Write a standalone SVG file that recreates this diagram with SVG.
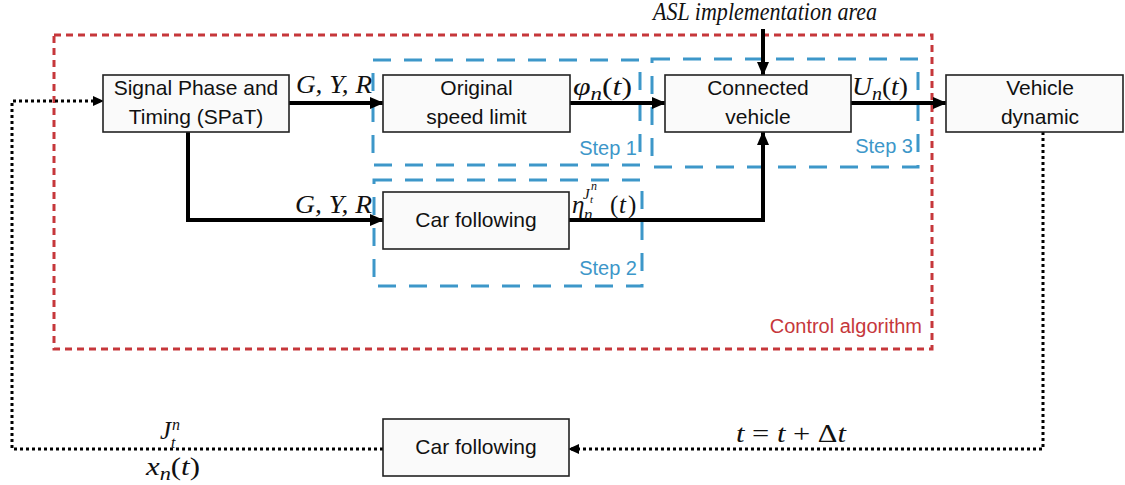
<svg xmlns="http://www.w3.org/2000/svg" width="1125" height="485" viewBox="0 0 1125 485">
  <style>
    .box { fill: #fafafa; stroke: #222; stroke-width: 1.6; }
    .lbl { font-family: "Liberation Sans", Arial, sans-serif; font-size: 21px; fill: #111; text-anchor: middle; }
    .math { font-family: "Liberation Serif", "Times New Roman", serif; font-style: italic; font-size: 25px; fill: #111; }
    .rm { font-style: normal; }
    .step { font-family: "Liberation Sans", Arial, sans-serif; font-size: 20px; fill: #3d97c9; text-anchor: end; }
    .ctrl { font-family: "Liberation Sans", Arial, sans-serif; font-size: 20px; fill: #c6373b; text-anchor: end; }
    .area-red { fill: none; stroke: #c6373b; stroke-width: 3; stroke-dasharray: 7 5; }
    .area-blue { fill: none; stroke: #3d97c9; stroke-width: 3; stroke-dasharray: 18 13; }
    .solid { fill: none; stroke: #000; stroke-width: 4; }
    .dotted { fill: none; stroke: #000; stroke-width: 3; stroke-dasharray: 3 3; }
  </style>
  <defs>
    <marker id="arrow" markerUnits="userSpaceOnUse" markerWidth="14" markerHeight="12" refX="13" refY="6" orient="auto">
      <path d="M0,0 L14,6 L0,12 z" fill="#000"/>
    </marker>
    <marker id="arrow-small" markerUnits="userSpaceOnUse" markerWidth="11" markerHeight="10" refX="10" refY="5" orient="auto">
      <path d="M0,0 L11,5 L0,10 z" fill="#000"/>
    </marker>
  </defs>

  <rect width="1125" height="485" fill="#fff"/>

  <!-- dashed regions -->
  <g id="regions">
    <rect class="area-red" x="54" y="35" width="878" height="314"/>
    <rect class="area-blue" x="373" y="60" width="267" height="105"/>
    <rect class="area-blue" x="652" y="59" width="266" height="108"/>
    <rect class="area-blue" x="374" y="180" width="268" height="106"/>
    <text class="step" x="637" y="155">Step 1</text>
    <text class="step" x="637" y="275">Step 2</text>
    <text class="step" x="913" y="153">Step 3</text>
    <text class="ctrl" x="922" y="333">Control algorithm</text>
  </g>

  <!-- connectors -->
  <g id="connectors">
    <line class="solid" x1="289" y1="103" x2="383" y2="103" marker-end="url(#arrow)"/>
    <line class="solid" x1="570" y1="103" x2="665" y2="103" marker-end="url(#arrow)"/>
    <line class="solid" x1="851" y1="103" x2="946" y2="103" marker-end="url(#arrow)"/>
    <line class="solid" x1="763" y1="29" x2="763" y2="75" marker-end="url(#arrow)"/>
    <polyline class="solid" points="188,132 188,220 383,220" marker-end="url(#arrow)"/>
    <polyline class="solid" points="569,220 763,220 763,132" marker-end="url(#arrow)"/>
    <polyline class="dotted" points="1043,132 1043,449 569,449" marker-end="url(#arrow-small)"/>
    <polyline class="dotted" points="383,449 12,449 12,101 103,101" marker-end="url(#arrow-small)"/>

    <!-- connector labels -->
    <text class="math" x="296" y="93" textLength="76" lengthAdjust="spacingAndGlyphs">G, Y, R</text>
    <text class="math" x="295" y="213" textLength="77" lengthAdjust="spacingAndGlyphs">G, Y, R</text>
    <text class="math" x="573" y="95" textLength="59" lengthAdjust="spacingAndGlyphs">φ<tspan style="font-size:18px" dy="5">n</tspan><tspan class="rm" dy="-5">(</tspan>t<tspan class="rm">)</tspan></text>
    <text class="math" x="852" y="95" textLength="56" lengthAdjust="spacingAndGlyphs">U<tspan style="font-size:18px" dy="5">n</tspan><tspan class="rm" dy="-5">(</tspan>t<tspan class="rm">)</tspan></text>
    <text class="math"><tspan x="572" y="213">η</tspan><tspan x="584" y="220" style="font-size:17px">n</tspan><tspan x="583" y="199" style="font-size:15px">J</tspan><tspan x="590" y="203" style="font-size:11px">t</tspan><tspan x="591" y="190" style="font-size:12px">n</tspan><tspan class="rm" x="610" y="213">(</tspan><tspan x="619" y="213">t</tspan><tspan class="rm" x="628" y="213">)</tspan></text>
    <text class="math"><tspan x="160" y="439">J</tspan><tspan x="171" y="448" style="font-size:16px">t</tspan><tspan x="172" y="430" style="font-size:16px">n</tspan></text>
    <text class="math" x="146" y="475" textLength="54" lengthAdjust="spacingAndGlyphs">x<tspan style="font-size:18px" dy="5">n</tspan><tspan class="rm" dy="-5">(</tspan>t<tspan class="rm">)</tspan></text>
    <text class="math" x="736" y="442" textLength="110" lengthAdjust="spacingAndGlyphs">t <tspan class="rm">=</tspan> t <tspan class="rm">+ Δ</tspan>t</text>
    <text class="math" x="653" y="20" font-size="18" textLength="224" lengthAdjust="spacingAndGlyphs">ASL implementation area</text>
  </g>

  <!-- nodes -->
  <g id="spat">
    <rect class="box" x="103" y="75" width="186" height="57"/>
    <text class="lbl" x="196" y="95">Signal Phase and</text>
    <text class="lbl" x="196" y="124">Timing (SPaT)</text>
  </g>
  <g id="original-speed-limit">
    <rect class="box" x="383" y="75" width="187" height="57"/>
    <text class="lbl" x="476.5" y="95">Original</text>
    <text class="lbl" x="476.5" y="124">speed limit</text>
  </g>
  <g id="connected-vehicle">
    <rect class="box" x="665" y="75" width="186" height="57"/>
    <text class="lbl" x="758" y="95">Connected</text>
    <text class="lbl" x="758" y="124">vehicle</text>
  </g>
  <g id="vehicle-dynamic">
    <rect class="box" x="946" y="75" width="177" height="57"/>
    <text class="lbl" x="1040" y="95">Vehicle</text>
    <text class="lbl" x="1040" y="124">dynamic</text>
  </g>
  <g id="car-following-step2">
    <rect class="box" x="383" y="192" width="186" height="57"/>
    <text class="lbl" x="476" y="227">Car following</text>
  </g>
  <g id="car-following-loop">
    <rect class="box" x="383" y="419" width="186" height="57"/>
    <text class="lbl" x="476" y="454">Car following</text>
  </g>
</svg>
